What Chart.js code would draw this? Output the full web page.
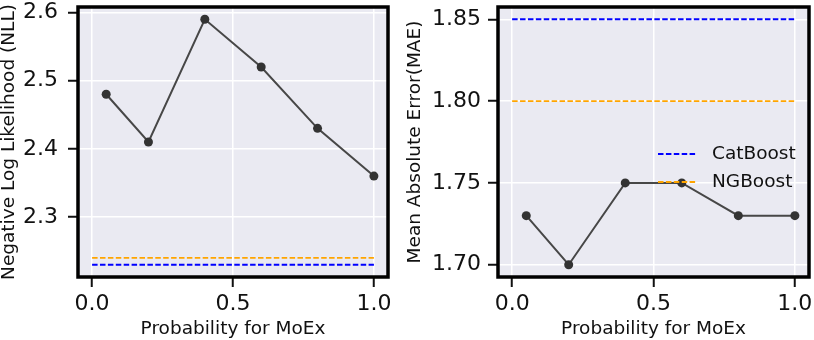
<!DOCTYPE html>
<html lang="en">
<head>
    <meta charset="UTF-8">
    <title>MoEx probability</title>
    <script src="https://cdn.jsdelivr.net/npm/chart.js"></script>
    <style>
        body { margin: 0; background: #fff; }
        .wrap { position: relative; width: 814px; height: 340px; }
        .panel { position: absolute; top: 0; }
    </style>
</head>
<body>
    <div class="wrap">
        <div class="panel" style="left:0"><canvas id="nllChart" width="400" height="340"></canvas></div>
        <div class="panel" style="left:400px"><canvas id="maeChart" width="414" height="340"></canvas></div>
    </div>

    <script>
        // data
        const probs = [0.05, 0.2, 0.4, 0.6, 0.8, 1.0];
        const nllMoEx = [2.48, 2.41, 2.59, 2.52, 2.43, 2.36];
        const maeMoEx = [1.73, 1.70, 1.75, 1.75, 1.73, 1.73];
        const baselineX = [0.0, 1.0];
        const nllCatBoost = 2.23;
        const nllNGBoost = 2.24;
        const maeCatBoost = 1.85;
        const maeNGBoost = 1.80;
        const xTicks = [0.0, 0.5, 1.0];
        const nllTicks = [2.3, 2.4, 2.5, 2.6];
        const maeTicks = [1.70, 1.75, 1.80, 1.85];

        const FONT = 'DejaVu Sans';
        const TEXT = '#111';

        // matplotlib-like 5% margins
        function limits(vals) {
            const lo = Math.min(...vals), hi = Math.max(...vals);
            const m = (hi - lo) * 0.05;
            return [lo - m, hi + m];
        }

        const bgPlugin = {
            id: 'bg',
            beforeDraw(chart) {
                const a = chart.chartArea, ctx = chart.ctx;
                ctx.save();
                ctx.fillStyle = '#EAEAF2';
                ctx.fillRect(a.left, a.top, a.right - a.left, a.bottom - a.top);
                ctx.restore();
            },
            afterDraw(chart) {
                const a = chart.chartArea, ctx = chart.ctx;
                ctx.save();
                ctx.strokeStyle = '#000';
                ctx.lineWidth = 3.5;
                ctx.strokeRect(a.left, a.top, a.right - a.left, a.bottom - a.top);
                ctx.restore();
            }
        };

        // small legend drawn inside the plot (right panel only)
        const legendPlugin = {
            id: 'innerLegend',
            afterDraw(chart, args, opts) {
                if (!opts.show) return;
                const a = chart.chartArea, ctx = chart.ctx;
                const items = chart.data.datasets.filter(d => d.inLegend);
                ctx.save();
                items.forEach((d, i) => {
                    const y = a.top + 147 + i * 28;
                    const x0 = a.right - 151;
                    ctx.strokeStyle = d.borderColor;
                    ctx.lineWidth = d.borderWidth;
                    ctx.setLineDash(d.borderDash);
                    ctx.beginPath();
                    ctx.moveTo(x0, y);
                    ctx.lineTo(x0 + 38, y);
                    ctx.stroke();
                    ctx.setLineDash([]);
                    ctx.fillStyle = TEXT;
                    ctx.font = '18.5px "' + FONT + '"';
                    ctx.textBaseline = 'middle';
                    ctx.fillText(d.label, x0 + 54, y);
                });
                ctx.restore();
            }
        };

        function makeChart(id, values, catVal, ngVal, yTicks, digits, yTitle, cfg) {
            const xr = limits(baselineX);
            const yr = limits(values.concat([catVal, ngVal]));
            const grid = { color: '#fff', lineWidth: 1.5, tickColor: '#111', tickWidth: 2, tickLength: 10 };

            new Chart(document.getElementById(id), {
                type: 'line',
                data: {
                    datasets: [
                        {
                            label: 'MoEx',
                            data: probs.map((p, i) => ({ x: p, y: values[i] })),
                            borderColor: '#474747',
                            borderWidth: 2,
                            pointRadius: 4.5,
                            pointBackgroundColor: '#333',
                            pointBorderWidth: 0,
                            tension: 0
                        },
                        {
                            label: 'CatBoost', inLegend: true,
                            data: baselineX.map(x => ({ x: x, y: catVal })),
                            borderColor: '#0000ff',
                            borderWidth: 1.8,
                            borderDash: [5.5, 2.4],
                            pointRadius: 0
                        },
                        {
                            label: 'NGBoost', inLegend: true,
                            data: baselineX.map(x => ({ x: x, y: ngVal })),
                            borderColor: '#ffa500',
                            borderWidth: 1.8,
                            borderDash: [5.5, 2.4],
                            pointRadius: 0
                        }
                    ]
                },
                options: {
                    responsive: false,
                    animation: false,
                    layout: { autoPadding: false, padding: { top: 7, right: cfg.padRight, left: 0, bottom: 0 } },
                    plugins: {
                        legend: { display: false },
                        tooltip: { enabled: false },
                        innerLegend: { show: cfg.legend }
                    },
                    scales: {
                        x: {
                            type: 'linear',
                            min: xr[0], max: xr[1],
                            afterBuildTicks: s => { s.ticks = xTicks.map(v => ({ value: v })); },
                            afterFit: s => { s.height = 63; s.paddingLeft = 0; s.paddingRight = 0; },
                            grid: grid,
                            border: { display: false },
                            ticks: {
                                font: { family: FONT, size: 22, lineHeight: 1 },
                                color: TEXT, padding: 6, maxRotation: 0, autoSkip: false,
                                callback: v => v.toFixed(1)
                            },
                            title: {
                                display: true, text: 'Probability for MoEx', color: TEXT,
                                font: { family: FONT, size: 18.5, lineHeight: 1 },
                                padding: { top: 0, bottom: 2 }
                            }
                        },
                        y: {
                            type: 'linear',
                            min: yr[0], max: yr[1],
                            afterBuildTicks: s => { s.ticks = yTicks.map(v => ({ value: v })); },
                            afterFit: s => { s.width = cfg.yWidth; s.paddingTop = 0; s.paddingBottom = 0; },
                            grid: grid,
                            border: { display: false },
                            ticks: {
                                font: { family: FONT, size: 22, lineHeight: 1 },
                                color: TEXT, padding: cfg.tickPad, autoSkip: false,
                                callback: v => v.toFixed(digits)
                            },
                            title: {
                                display: true, text: yTitle, color: TEXT,
                                font: { family: FONT, size: 18.5, lineHeight: 1 },
                                padding: { top: cfg.titlePad, bottom: 0 }
                            }
                        }
                    }
                },
                plugins: [bgPlugin, legendPlugin]
            });
        }

        makeChart('nllChart', nllMoEx, nllCatBoost, nllNGBoost, nllTicks, 1,
            'Negative Log Likelihood (NLL)', { padRight: 12, yWidth: 78, tickPad: 10, titlePad: 0, legend: false });
        makeChart('maeChart', maeMoEx, maeCatBoost, maeNGBoost, maeTicks, 2,
            'Mean Absolute Error(MAE)', { padRight: 5, yWidth: 98, tickPad: 7, titlePad: 6, legend: true });
    </script>
</body>
</html>
